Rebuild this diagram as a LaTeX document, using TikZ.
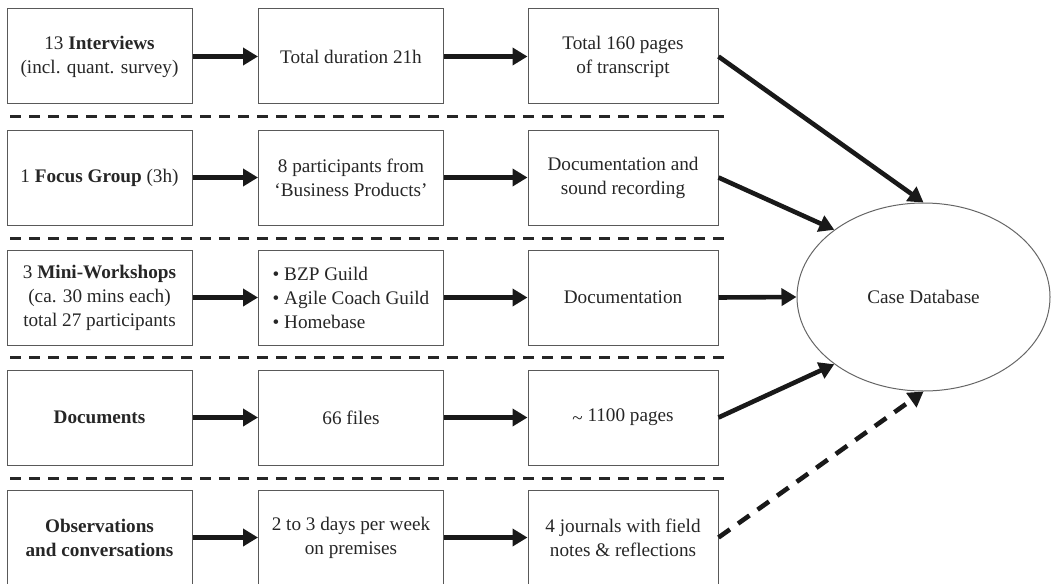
\documentclass[tikz,border=0pt]{standalone}
\usepackage{fontspec}
\setmainfont{Liberation Serif}
\usetikzlibrary{arrows.meta,shapes}
\tikzstyle{stage}=[rectangle,draw=black!65,line width=1pt,minimum width=185pt,minimum height=95pt,inner sep=0pt,align=center,text=black!85]
\tikzstyle{store}=[ellipse,draw=black!60,line width=1pt,minimum width=253pt,minimum height=188pt,inner sep=0pt,text=black!85]
\tikzstyle{link}=[line width=4.6pt,draw=black!90,-{Triangle[length=15pt,width=17pt]}]
\tikzstyle{divider}=[line width=3pt,draw=black!85,dash pattern=on 11pt off 8pt]

\begin{document}
\begin{tikzpicture}[x=1pt,y=-1pt,font=\fontsize{19.2}{24}\selectfont]
        \useasboundingbox (0,0) rectangle (1051,583);

        \node at (99.5,56.5)  [stage] (int)  {13 \textbf{Interviews}\\(incl. quant. survey)};
        \node at (351,56.5)   [stage] (dur)  {Total duration 21h};
        \node at (623,56.5)   [stage,minimum width=190pt] (trans) {Total 160 pages\\of transcript};

        \node at (99.5,177.5) [stage] (focus) {1 \textbf{Focus Group} (3h)};
        \node at (351,177.5)  [stage] (part)  {8 participants from\\`Business Products'};
        \node at (623,177.5)  [stage,minimum width=190pt] (sound) {Documentation and\\sound recording};

        \node at (99.5,297.5) [stage] (mini)  {3 \textbf{Mini-Workshops}\\(ca. 30 mins each)\\total 27 participants};
        \node at (351,297.5)  [stage,align=left] (guild) {\textbullet\ BZP Guild\\\textbullet\ Agile Coach Guild\\\textbullet\ Homebase};
        \node at (623,297.5)  [stage,minimum width=190pt] (docu) {Documentation};

        \node at (99.5,417.5) [stage] (docs)  {\textbf{Documents}};
        \node at (351,417.5)  [stage] (files) {66 files};
        \node at (623,417.5)  [stage,minimum width=190pt] (pages) {\raisebox{-0.3ex}{\textasciitilde} 1100 pages};

        \node at (99.5,537.5) [stage] (obs)   {\textbf{Observations}\\\textbf{and conversations}};
        \node at (351,537.5)  [stage] (days)  {2 to 3 days per week\\on premises};
        \node at (623,537.5)  [stage,minimum width=190pt] (jour) {4 journals with field\\notes \& reflections};

        \node at (923.5,297)  [store] (db) {Case Database};

        % separators between the sources
        \foreach \y in {117,238,357,478}
          \draw [divider] (10,\y) -- (727,\y);

        \draw [link] (int) -- (dur);
        \draw [link] (dur) -- (trans);
        \draw [link] (focus) -- (part);
        \draw [link] (part) -- (sound);
        \draw [link] (mini) -- (guild);
        \draw [link] (guild) -- (docu);
        \draw [link] (docs) -- (files);
        \draw [link] (files) -- (pages);
        \draw [link] (obs) -- (days);
        \draw [link] (days) -- (jour);

        \draw [link] (trans.east) -- (db.north);
        \draw [link] (sound.east) -- (db.143);
        \draw [link] (docu.east) -- (db.west);
        \draw [link] (pages.east) -- (db.217);
        \draw [link,dash pattern=on 14pt off 10pt] (jour.east) -- (db.south);
      \end{tikzpicture}
\end{document}
